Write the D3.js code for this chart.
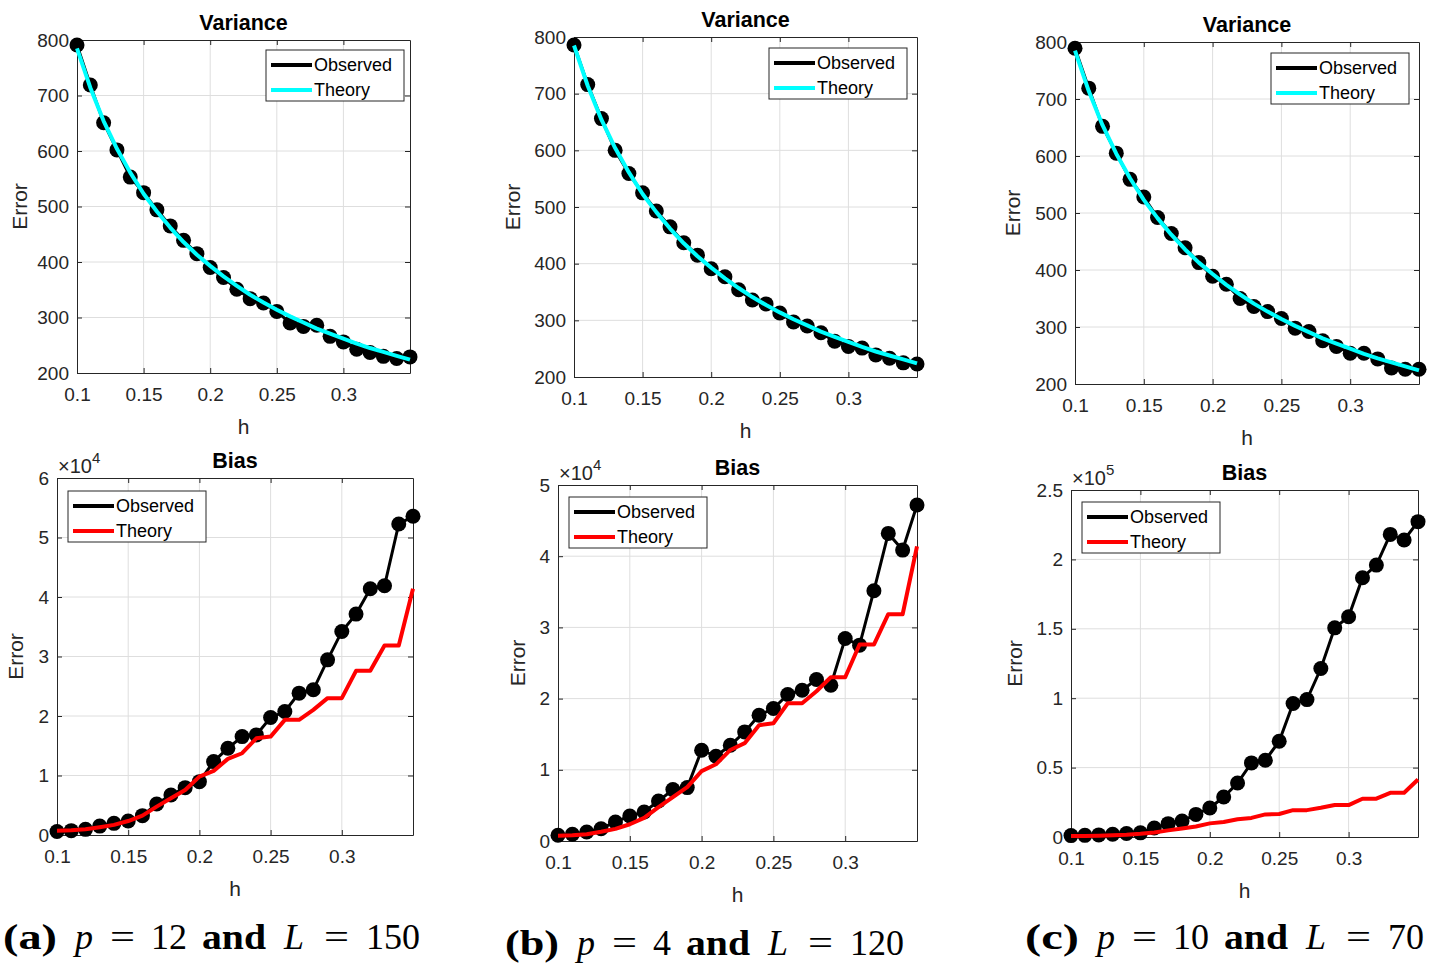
<!DOCTYPE html>
<html>
<head>
<script src="https://d3js.org/d3.v7.min.js"></script>
<style>
    body { margin: 0; background: #fff; }
    svg { display: block; font-family: "Liberation Sans", Arial, sans-serif; }
    .grid line { stroke: #dedede; stroke-width: 1; }
    .axis path, .axis line { stroke: #262626; stroke-width: 1; }
    .axis text { fill: #262626; font-size: 19px; font-family: "Liberation Sans", Arial, sans-serif; }
    .title { font-weight: bold; font-size: 21.5px; fill: #000; }
    .lab { font-size: 21px; fill: #262626; }
    .leg { font-size: 18px; fill: #000; }
    .cap { font-family: "Liberation Serif", "Times New Roman", serif; font-size: 36px; fill: #000; }
</style>
</head>
<body>
<svg id="fig" width="1433" height="965"></svg>
<script>
// bandwidth values (x)
var hValues = [0.10, 0.11, 0.12, 0.13, 0.14, 0.15, 0.16, 0.17, 0.18, 0.19, 0.20, 0.21, 0.22,
               0.23, 0.24, 0.25, 0.26, 0.27, 0.28, 0.29, 0.30, 0.31, 0.32, 0.33, 0.34, 0.35];
var xTicks = [0.1, 0.15, 0.2, 0.25, 0.3];

// variance
var varianceTicks = [200, 300, 400, 500, 600, 700, 800];
var varianceTheory = [785, 714, 654, 604, 561, 523, 491, 462, 436, 413, 393, 374, 357,
                      341, 327, 314, 302, 291, 280, 271, 262, 253, 245, 238, 231, 224];
var varianceObsA = [791, 719, 651, 602, 553, 525, 494, 465, 439, 415, 390, 372, 351,
                    334, 326, 311, 290, 284, 286, 266, 256, 243, 237, 230, 226, 229];
var varianceObsB = [786, 716, 656, 600, 559, 525, 493, 465, 437, 415, 391, 377, 354,
                    336, 329, 313, 297, 290, 278, 263, 254, 251, 239, 233, 225, 223];
var varianceObsC = [789, 719, 652, 605, 559, 528, 492, 464, 439, 413, 389, 375, 350,
                    336, 327, 315, 298, 292, 276, 266, 254, 254, 244, 228, 226, 226];

// bias
var biasTicksA = [0, 10000, 20000, 30000, 40000, 50000, 60000];
var biasTicksB = [0, 10000, 20000, 30000, 40000, 50000];
var biasTicksC = [0, 50000, 100000, 150000, 200000, 250000];
var biasTheory = [730, 800, 950, 1300, 1700, 2350, 3250, 4770, 6170, 7570, 9810, 10770, 12790,
                  13740, 16260, 16540, 19350, 19350, 21030, 23000, 23000, 27590, 27590, 31850, 31850, 41390];
var biasObsA = [600, 730, 950, 1500, 1960, 2350, 3250, 5200, 6730, 7960, 8970, 12340, 14580,
                16540, 16820, 19740, 20750, 23840, 24400, 29440, 34210, 37130, 41390, 41890, 52270, 53560];
var biasObsB = [800, 940, 1270, 1730, 2670, 3510, 4080, 5620, 7220, 7500, 12750, 11900, 13450,
                15320, 17670, 18600, 20570, 21180, 22680, 21880, 28440, 27510, 35150, 43200, 40860, 47190];
var biasObsC = [1000, 1200, 1500, 2000, 2500, 3000, 6500, 9600, 11500, 16300, 20900, 28800, 38900,
                53400, 55300, 69000, 96200, 99000, 121400, 150700, 158700, 186800, 195900, 218000, 214000, 227200];

var seriesNames = ["Observed", "Theory"];

var panels = [
    { title: "Variance", l: 77, r: 410, t: 40, b: 373, dom: [200, 800], ticks: varianceTicks, div: 1,
      obs: varianceObsA, th: varianceTheory, thColor: "#00ffff", leg: [266, 50], yl: 57 },
    { title: "Variance", l: 574, r: 917, t: 37, b: 377, dom: [200, 800], ticks: varianceTicks, div: 1,
      obs: varianceObsB, th: varianceTheory, thColor: "#00ffff", leg: [769, 48], yl: 61 },
    { title: "Variance", l: 1075, r: 1419, t: 42, b: 384, dom: [200, 800], ticks: varianceTicks, div: 1,
      obs: varianceObsC, th: varianceTheory, thColor: "#00ffff", leg: [1271, 53], yl: 62 },
    { title: "Bias", l: 57, r: 413, t: 478, b: 835, dom: [0, 60000], ticks: biasTicksA, div: 1e4, exp: "4",
      obs: biasObsA, th: biasTheory, thColor: "#ff0000", leg: [68, 491], yl: 41 },
    { title: "Bias", l: 558, r: 917, t: 485, b: 841, dom: [0, 50000], ticks: biasTicksB, div: 1e4, exp: "4",
      obs: biasObsB, th: biasTheory, thColor: "#ff0000", leg: [569, 497], yl: 40 },
    { title: "Bias", l: 1071, r: 1418, t: 490, b: 837, dom: [0, 250000], ticks: biasTicksC, div: 1e5, exp: "5",
      obs: biasObsC, th: biasTheory, thColor: "#ff0000", leg: [1082, 502], yl: 56 }
];

var svg = d3.select("#fig");

panels.forEach(function(p) {
    var x = d3.scaleLinear().domain([0.1, 0.35]).range([p.l, p.r]);
    var y = d3.scaleLinear().domain(p.dom).range([p.b, p.t]);
    var g = svg.append("g");

    // grid
    var grid = g.append("g").attr("class", "grid");
    grid.selectAll(".gx").data(xTicks.slice(1)).enter().append("line")
        .attr("x1", function(d) { return x(d); }).attr("x2", function(d) { return x(d); })
        .attr("y1", p.t).attr("y2", p.b);
    grid.selectAll(".gy").data(p.ticks.slice(1, -1)).enter().append("line")
        .attr("x1", p.l).attr("x2", p.r)
        .attr("y1", function(d) { return y(d); }).attr("y2", function(d) { return y(d); });

    var fmt = function(d) { return String(+(d / p.div).toFixed(2)); };

    g.append("g").attr("class", "axis").attr("transform", "translate(0," + p.b + ")")
        .call(d3.axisBottom(x).tickValues(xTicks).tickSizeInner(-5).tickSizeOuter(0).tickPadding(15)
            .tickFormat(function(d) { return String(d); }));
    g.append("g").attr("class", "axis").attr("transform", "translate(0," + p.t + ")")
        .call(d3.axisTop(x).tickValues(xTicks).tickSizeInner(-5).tickSizeOuter(0).tickFormat(""));
    g.append("g").attr("class", "axis").attr("transform", "translate(" + p.l + ",0)")
        .call(d3.axisLeft(y).tickValues(p.ticks).tickSizeInner(-5).tickSizeOuter(0).tickPadding(8)
            .tickFormat(fmt));
    g.append("g").attr("class", "axis").attr("transform", "translate(" + p.r + ",0)")
        .call(d3.axisRight(y).tickValues(p.ticks).tickSizeInner(-5).tickSizeOuter(0).tickFormat(""));

    // series
    var line = d3.line().x(function(d, i) { return x(hValues[i]); }).y(function(d) { return y(d); });
    g.append("path").datum(p.obs).attr("d", line)
        .attr("fill", "none").attr("stroke", "#000").attr("stroke-width", 3);
    g.selectAll(".dot").data(p.obs).enter().append("circle")
        .attr("cx", function(d, i) { return x(hValues[i]); })
        .attr("cy", function(d) { return y(d); })
        .attr("r", 7.5).attr("fill", "#000");
    g.append("path").datum(p.th).attr("d", line)
        .attr("fill", "none").attr("stroke", p.thColor).attr("stroke-width", 4)
        .attr("stroke-linejoin", "round");

    // titles and labels
    g.append("text").attr("class", "title").attr("x", (p.l + p.r) / 2).attr("y", p.t - 10)
        .attr("text-anchor", "middle").text(p.title);
    g.append("text").attr("class", "lab").attr("x", (p.l + p.r) / 2).attr("y", p.b + 61)
        .attr("text-anchor", "middle").text("h");
    g.append("text").attr("class", "lab")
        .attr("transform", "translate(" + (p.l - p.yl) + "," + ((p.t + p.b) / 2) + ") rotate(-90)")
        .attr("text-anchor", "middle").attr("dy", "0.35em").text("Error");

    if (p.exp) {
        var ex = g.append("text").attr("x", p.l + 1).attr("y", p.t - 5)
            .attr("fill", "#262626").style("font-size", "20px");
        ex.append("tspan").text("\u00d710");
        ex.append("tspan").attr("dy", -10).style("font-size", "15px").text(p.exp);
    }

    // legend
    var lg = g.append("g").attr("transform", "translate(" + p.leg[0] + "," + p.leg[1] + ")");
    lg.append("rect").attr("width", 138).attr("height", 51)
        .attr("fill", "#fff").attr("stroke", "#262626").attr("stroke-width", 1);
    [["#000", 0], [p.thColor, 1]].forEach(function(e) {
        var yy = 15 + e[1] * 25;
        lg.append("line").attr("x1", 5).attr("x2", 46).attr("y1", yy).attr("y2", yy)
            .attr("stroke", e[0]).attr("stroke-width", 4);
        lg.append("text").attr("class", "leg").attr("x", 48).attr("y", yy).attr("dy", "0.35em")
            .text(seriesNames[e[1]]);
    });
});

// captions, typeset piece by piece to mimic LaTeX spacing
var captionTags = ["(a)", "(b)", "(c)"];
var captionP = ["12", "4", "10"];
var captionL = ["150", "120", "70"];
var captionPos = [[3, 949], [505, 955], [1025, 949]];

captionTags.forEach(function(tag, i) {
    var x0 = captionPos[i][0], yb = captionPos[i][1];
    var cg = svg.append("g").attr("class", "cap");
    function put(str, x, opts) {
        var t = cg.append("text").attr("x", x).attr("y", yb).text(str);
        if (opts && opts.bold) t.style("font-weight", "bold");
        if (opts && opts.italic) t.style("font-style", "italic");
        if (opts && opts.len) t.attr("textLength", opts.len).attr("lengthAdjust", "spacingAndGlyphs");
        return x + (opts && opts.len ? opts.len : t.node().getComputedTextLength());
    }
    put(tag, x0, { bold: true, len: 54 });
    put("p", x0 + 72, { italic: true });
    put("=", x0 + 107, { len: 25 });
    var e = put(captionP[i], x0 + 148);
    put("and", e + 15, { bold: true, len: 64 });
    put("L", e + 15 + 82, { italic: true });
    put("=", e + 15 + 122, { len: 25 });
    put(captionL[i], e + 15 + 164);
});
</script>
</body>
</html>
